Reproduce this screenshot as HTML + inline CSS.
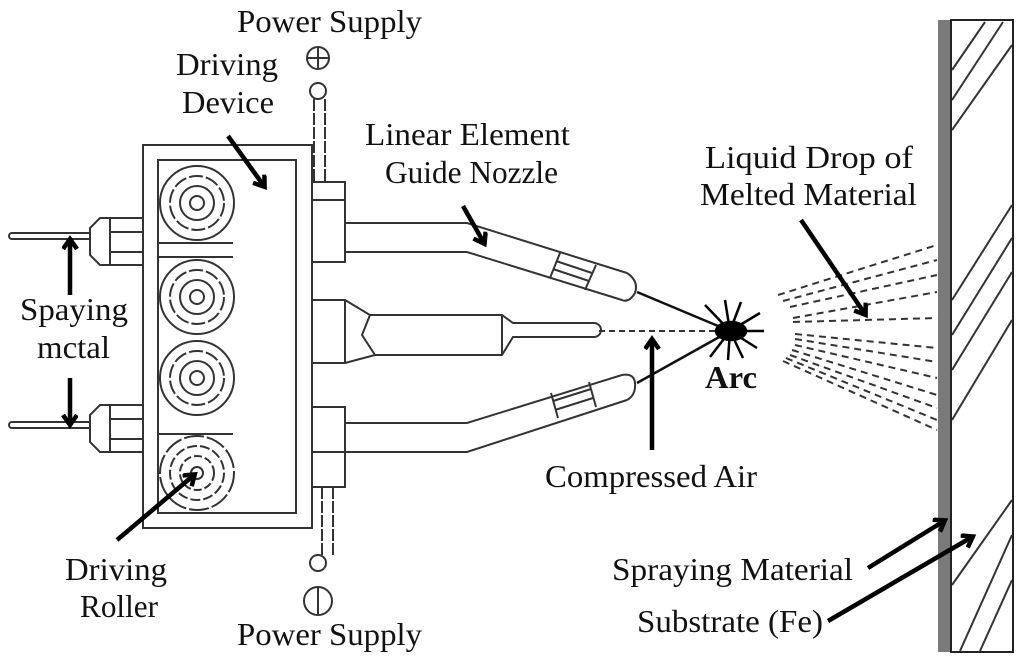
<!DOCTYPE html>
<html><head><style>
html,body{margin:0;padding:0;background:#fff;}
svg{display:block;}
text{font-family:"Liberation Serif",serif;font-size:32px;fill:#111;}
</style></head><body>
<svg width="1024" height="664" viewBox="0 0 1024 664" xmlns="http://www.w3.org/2000/svg">
<defs>
<marker id="ah" markerWidth="18" markerHeight="18" refX="10" refY="8" orient="auto" markerUnits="userSpaceOnUse">
<path d="M1,1 L11,8 L1,15" fill="none" stroke="#000" stroke-width="4.5"/>
</marker>
</defs>
<g stroke="#333" stroke-width="2" fill="none">
<rect x="143" y="145" width="169" height="383"/>
<rect x="158" y="160" width="138" height="353"/>
<line x1="158" y1="243" x2="233" y2="243"/>
<line x1="158" y1="257" x2="233" y2="257"/>
<line x1="158" y1="434" x2="233" y2="434"/>
<g>
<circle cx="197" cy="203" r="37"/><circle cx="197" cy="203" r="27" stroke-dasharray="14,3"/><circle cx="197" cy="203" r="17"/><circle cx="197" cy="203" r="7"/>
<circle cx="197" cy="297" r="37"/><circle cx="197" cy="297" r="27" stroke-dasharray="14,3"/><circle cx="197" cy="297" r="17"/><circle cx="197" cy="297" r="7"/>
<circle cx="197" cy="378" r="37"/><circle cx="197" cy="378" r="27" stroke-dasharray="14,3"/><circle cx="197" cy="378" r="17"/><circle cx="197" cy="378" r="7"/>
<circle cx="197" cy="473" r="37" stroke-dasharray="20,3"/><circle cx="197" cy="473" r="27" stroke-dasharray="10,3"/><circle cx="197" cy="473" r="17" stroke-dasharray="8,3"/><circle cx="197" cy="473" r="6"/>
</g>
<path d="M143,218 H100 L90,228 V255 L100,265 H143 M110,218 V265 M110,232 H143 M110,252 H143"/>
<path d="M90,233 H12 a3,3 0 0 0 0,6 H90"/>
<path d="M143,405 H100 L90,415 V442 L100,452 H143 M110,405 V452 M110,419 H143 M110,439 H143"/>
<path d="M90,422 H12 a3,3 0 0 0 0,6 H90"/>
<rect x="312" y="182" width="33" height="80"/><line x1="312" y1="200" x2="345" y2="200"/>
<rect x="312" y="300" width="33" height="63"/>
<rect x="312" y="407" width="33" height="80"/><line x1="312" y1="452" x2="345" y2="452"/>
<path d="M345,223 H467 L627,273 M345,252 H467 L622,300"/>
<path d="M627,273 q12,8 8,20 q-6,10 -13,7" />
<path d="M560,253 L550,278 M596,265 L585,290 M556,261 L592,273 M553,269 L589,281"/>
<path d="M345,423 H467 L622,375 M345,452 H467 L627,400"/>
<path d="M622,375 q12,-2 13,8 q1,12 -8,17"/>
<path d="M551,393 L558,418 M589,382 L596,407 M553,401 L591,389 M555,410 L593,398"/>
<path d="M345,300 L370,315 L362,335 L375,355 L345,363"/>
<path d="M370,315 H502 L513,323 H594 a7,7 0 0 1 0,14 H513 L502,355 H375"/>
<line x1="502" y1="315" x2="502" y2="355"/>
<line x1="599" y1="331" x2="715" y2="331" stroke-dasharray="6,4"/>
<circle cx="318" cy="58" r="11"/><path d="M307,58 H329 M318,47 V69"/>
<circle cx="318" cy="91" r="8"/>
<path d="M314,99 V182 M325,99 V182" stroke-dasharray="12,2"/>
<path d="M322,487 V556 M333,487 V556" stroke-dasharray="12,2"/>
<circle cx="318" cy="563" r="8"/>
<circle cx="318" cy="601" r="14"/><line x1="318" y1="587" x2="318" y2="615"/>
</g>
<g stroke="#111" stroke-width="2.5">
<line x1="637" y1="292" x2="730" y2="331"/>
<line x1="637" y1="383" x2="730" y2="331"/>
</g>
<g stroke="#000" stroke-width="2.5">
<line x1="730" y1="331" x2="705" y2="305"/><line x1="730" y1="331" x2="725" y2="300"/><line x1="730" y1="331" x2="741" y2="302"/><line x1="730" y1="331" x2="760" y2="313"/>
<line x1="730" y1="331" x2="764" y2="331"/><line x1="730" y1="331" x2="757" y2="348"/><line x1="730" y1="331" x2="743" y2="358"/><line x1="730" y1="331" x2="728" y2="360"/><line x1="730" y1="331" x2="710" y2="357"/>
<ellipse cx="731" cy="331" rx="15" ry="9" fill="#000"/>
</g>
<g stroke="#333" stroke-width="2" stroke-dasharray="7,5">
<line x1="778" y1="295" x2="937" y2="245"/>
<line x1="783" y1="301" x2="937" y2="260"/>
<line x1="790" y1="307" x2="937" y2="275"/>
<line x1="793" y1="318" x2="937" y2="292"/>
<line x1="793" y1="322" x2="937" y2="318"/>
<line x1="795" y1="334" x2="937" y2="348"/>
<line x1="795" y1="339" x2="937" y2="362"/>
<line x1="795" y1="345" x2="937" y2="378"/>
<line x1="792" y1="350" x2="937" y2="395"/>
<line x1="790" y1="355" x2="937" y2="408"/>
<line x1="786" y1="358" x2="937" y2="420"/>
<line x1="783" y1="361" x2="937" y2="430"/>
</g>
<rect x="938" y="20" width="13" height="632" fill="#7a7a7a"/>
<rect x="951" y="20" width="62" height="632" fill="#fff" stroke="#222" stroke-width="2"/>
<g stroke="#333" stroke-width="2">
<line x1="952" y1="70" x2="985" y2="22"/><line x1="952" y1="100" x2="1003" y2="22"/><line x1="952" y1="130" x2="1012" y2="45"/>
<line x1="952" y1="300" x2="1012" y2="205"/><line x1="952" y1="335" x2="1012" y2="238"/><line x1="952" y1="370" x2="1012" y2="272"/><line x1="952" y1="420" x2="1012" y2="320"/>
<line x1="952" y1="585" x2="1012" y2="500"/><line x1="960" y1="651" x2="1012" y2="535"/><line x1="980" y1="651" x2="1012" y2="580"/>
</g>
<g stroke="#000" stroke-width="4.5" fill="none" marker-end="url(#ah)">
<line x1="228" y1="136" x2="264" y2="186"/>
<line x1="463" y1="206" x2="484" y2="243"/>
<line x1="70" y1="295" x2="70" y2="240"/>
<line x1="70" y1="378" x2="70" y2="424"/>
<line x1="117" y1="540" x2="194" y2="475"/>
<line x1="801" y1="220" x2="865" y2="314"/>
<line x1="652" y1="450" x2="652" y2="340"/>
<line x1="868" y1="568" x2="944" y2="521"/>
<line x1="828" y1="621" x2="972" y2="537"/>
</g>
<g lengthAdjust="spacingAndGlyphs">
<text x="237" y="32" textLength="185" lengthAdjust="spacingAndGlyphs">Power Supply</text>
<text x="176" y="75" textLength="102" lengthAdjust="spacingAndGlyphs">Driving</text>
<text x="182" y="113" textLength="92" lengthAdjust="spacingAndGlyphs">Device</text>
<text x="365" y="145" textLength="205" lengthAdjust="spacingAndGlyphs">Linear Element</text>
<text x="385" y="183" textLength="173" lengthAdjust="spacingAndGlyphs">Guide Nozzle</text>
<text x="705" y="168" textLength="208" lengthAdjust="spacingAndGlyphs">Liquid Drop of</text>
<text x="700" y="205" textLength="217" lengthAdjust="spacingAndGlyphs">Melted Material</text>
<text x="20" y="320" textLength="108" lengthAdjust="spacingAndGlyphs">Spaying</text>
<text x="37" y="358" textLength="73" lengthAdjust="spacingAndGlyphs">mctal</text>
<text x="705" y="388" textLength="52" lengthAdjust="spacingAndGlyphs" font-weight="bold">Arc</text>
<text x="545" y="487" textLength="212" lengthAdjust="spacingAndGlyphs">Compressed Air</text>
<text x="65" y="580" textLength="102" lengthAdjust="spacingAndGlyphs">Driving</text>
<text x="80" y="617" textLength="78" lengthAdjust="spacingAndGlyphs">Roller</text>
<text x="612" y="580" textLength="241" lengthAdjust="spacingAndGlyphs">Spraying Material</text>
<text x="637" y="632" textLength="186" lengthAdjust="spacingAndGlyphs">Substrate (Fe)</text>
<text x="237" y="645" textLength="185" lengthAdjust="spacingAndGlyphs">Power Supply</text>
</g>
</svg>
</body></html>
